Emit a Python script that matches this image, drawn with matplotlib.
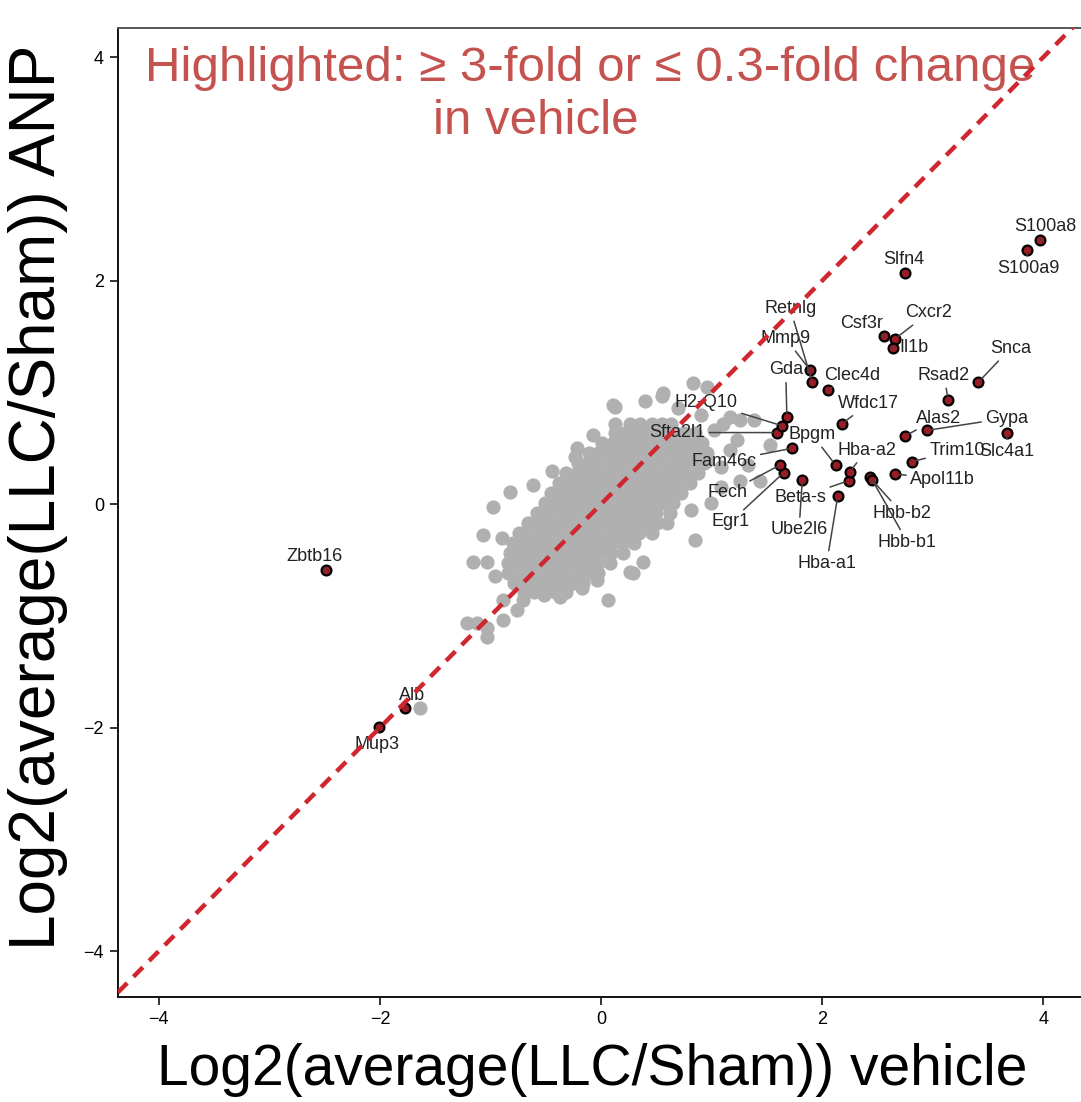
import matplotlib
matplotlib.use("Agg")
import matplotlib.pyplot as plt

# ---- highlighted genes (vehicle log2, ANP log2) ----
genes = ["S100a8", "S100a9", "Slfn4", "Cxcr2", "Csf3r", "Il1b", "Snca", "Rsad2",
         "Alas2", "Gypa", "Slc4a1", "Trim10", "Apol11b", "Hbb-b2", "Hbb-b1",
         "Hba-a1", "Ube2l6", "Beta-s", "Hba-a2", "Egr1", "Fech", "Fam46c", "Bpgm",
         "Sfta2l1", "H2-Q10", "Gda", "Mmp9", "Retnlg", "Clec4d", "Wfdc17",
         "Zbtb16", "Alb", "Mup3"]
gene_x = [3.97, 3.85, 2.75, 2.66, 2.56, 2.64, 3.41, 3.14,
          2.75, 2.95, 3.67, 2.81, 2.66, 2.43, 2.45,
          2.14, 1.82, 2.24, 2.25, 1.65, 1.62, 1.73, 2.12,
          1.59, 1.64, 1.68, 1.89, 1.91, 2.05, 2.18,
          -2.49, -1.77, -2.01]
gene_y = [2.36, 2.27, 2.07, 1.48, 1.50, 1.40, 1.09, 0.93,
          0.61, 0.66, 0.64, 0.38, 0.27, 0.24, 0.22,
          0.07, 0.22, 0.21, 0.29, 0.28, 0.35, 0.50, 0.35,
          0.64, 0.70, 0.78, 1.20, 1.09, 1.02, 0.72,
          -0.59, -1.82, -1.99]
# where the labels sit (repelled positions)
label_x = [4.02, 3.86, 2.74, 2.96, 2.36, 2.83, 3.70, 3.10,
           3.05, 3.67, 3.67, 3.22, 3.09, 2.72, 2.77,
           2.04, 1.79, 1.80, 2.40, 1.17, 1.14, 1.11, 1.91,
           0.69, 0.95, 1.67, 1.67, 1.71, 2.27, 2.42,
           -2.59, -1.71, -2.03]
label_y = [2.48, 2.11, 2.19, 1.71, 1.62, 1.40, 1.39, 1.15,
           0.77, 0.77, 0.47, 0.48, 0.22, -0.08, -0.34,
           -0.53, -0.23, 0.06, 0.48, -0.16, 0.10, 0.38, 0.62,
           0.64, 0.91, 1.20, 1.48, 1.75, 1.15, 0.90,
           -0.47, -1.71, -2.15]

# ---- non-highlighted genes: dense core, digitised row by row ----
core_y = [0.72, 0.64, 0.55, 0.46, 0.37, 0.28, 0.19, 0.10, 0.01,
          -0.08, -0.17, -0.26, -0.35, -0.44, -0.53, -0.62, -0.71, -0.79]
core_x = [
    [0.26, 0.35, 0.46, 0.55, 0.63],
    [0.13, 0.22, 0.30, 0.40, 0.49, 0.57, 0.67, 0.75, 0.85],
    [0.01, 0.11, 0.18, 0.28, 0.36, 0.46, 0.54, 0.64, 0.73, 0.81, 0.91],
    [-0.11, -0.03, 0.07, 0.16, 0.24, 0.32, 0.42, 0.51, 0.59, 0.69, 0.78, 0.87, 0.96],
    [-0.21, -0.12, -0.04, 0.06, 0.14, 0.22, 0.32, 0.41, 0.49, 0.59, 0.68, 0.76, 0.86, 0.93],
    [-0.32, -0.22, -0.14, -0.05, 0.05, 0.13, 0.21, 0.31, 0.40, 0.48, 0.58, 0.67, 0.77, 0.88],
    [-0.38, -0.30, -0.20, -0.11, -0.03, 0.07, 0.16, 0.24, 0.34, 0.43, 0.51, 0.61, 0.70, 0.80],
    [-0.45, -0.35, -0.27, -0.18, -0.08, 0.00, 0.09, 0.19, 0.27, 0.35, 0.45, 0.54, 0.63, 0.72],
    [-0.51, -0.42, -0.34, -0.24, -0.15, -0.06, 0.03, 0.12, 0.22, 0.30, 0.38, 0.48, 0.57, 0.65],
    [-0.58, -0.49, -0.39, -0.31, -0.22, -0.12, -0.04, 0.05, 0.14, 0.24, 0.32, 0.41, 0.50, 0.62],
    [-0.66, -0.56, -0.48, -0.39, -0.29, -0.21, -0.12, -0.03, 0.07, 0.15, 0.23, 0.33, 0.42, 0.51, 0.60],
    [-0.74, -0.65, -0.56, -0.46, -0.38, -0.29, -0.19, -0.11, -0.02, 0.07, 0.16, 0.26, 0.34, 0.46],
    [-0.80, -0.71, -0.61, -0.53, -0.44, -0.34, -0.26, -0.17, -0.07, 0.01, 0.10, 0.19, 0.30],
    [-0.82, -0.73, -0.64, -0.54, -0.46, -0.37, -0.27, -0.19, -0.10, -0.01, 0.09, 0.20],
    [-0.84, -0.75, -0.65, -0.57, -0.48, -0.38, -0.30, -0.21, -0.11, -0.03, 0.08],
    [-0.84, -0.74, -0.66, -0.57, -0.47, -0.39, -0.30, -0.20, -0.12, -0.03],
    [-0.79, -0.70, -0.61, -0.51, -0.43, -0.34, -0.25, -0.16],
    [-0.70, -0.61, -0.52, -0.42, -0.32],
]
# scattered grey genes around the core
spread_x = [0.13, 0.13, -0.07, -0.22, -0.24, -0.44, -0.62, -0.82, -0.98, -1.07,
            -0.90, -1.16, -1.03, -0.96, -0.71, -0.89, -0.76, -0.89, -1.12, -1.21,
            -1.03, -1.03, 0.06, 0.26, -0.04, -0.17, -0.37, -0.52, 0.55, 0.83,
            0.96, 1.17, 1.26, 1.10, 1.23, 1.38, 1.17, 1.08, 1.26, 1.44,
            0.96, 1.08, 0.85, 0.38, 0.29, 0.99, 0.81, 0.56, 0.11, -1.64,
            1.53, 1.33, 0.70, 0.40, 1.02, 0.90]
spread_y = [0.87, 0.72, 0.62, 0.50, 0.42, 0.30, 0.17, 0.11, -0.03, -0.28,
            -0.30, -0.52, -0.52, -0.64, -0.86, -0.86, -0.95, -1.04, -1.06, -1.06,
            -1.11, -1.19, -0.86, -0.61, -0.68, -0.75, -0.83, -0.81, 0.97, 1.08,
            1.05, 0.78, 0.75, 0.72, 0.57, 0.75, 0.48, 0.33, 0.21, 0.21,
            0.39, 0.15, -0.32, -0.52, -0.62, 0.01, -0.05, 0.99, 0.89, -1.82,
            0.53, 0.35, 0.86, 0.92, 0.66, 0.80]

grey_x = [x for row in core_x for x in row] + spread_x
grey_y = [y for y, row in zip(core_y, core_x) for _ in row] + spread_y

xlim = (-4.37, 4.34)
ylim = (-4.41, 4.26)

plt.rcParams['font.family'] = ['Liberation Sans', 'DejaVu Sans']

fig = plt.figure(figsize=(10.81, 11.02), dpi=100)
ax = fig.add_axes([0.109, 0.0953, 0.891, 0.8793])

ax.scatter(grey_x, grey_y, s=105, color='#b0b0b0', linewidths=0, zorder=1)
ax.plot(xlim, xlim, ls=(0, (3, 2)), color='#d0262f', lw=3.2, zorder=7)
ax.scatter(gene_x, gene_y, s=50, facecolor='#9a1c25', edgecolor='black',
           linewidths=1.6, zorder=4)

for g, x, y, lx, ly in zip(genes, gene_x, gene_y, label_x, label_y):
    ax.annotate(g, xy=(x, y), xytext=(lx, ly), ha='center', va='center',
                fontsize=13, color='#222222', zorder=5,
                arrowprops=dict(arrowstyle='-', color='#444444', lw=1.1,
                                shrinkA=1, shrinkB=3))

# annotation in the top of the panel
ax.text(-0.1, 3.90, u"Highlighted: \u2265 3-fold or \u2264 0.3-fold change",
        ha='center', va='center', fontsize=35.5, color='#c4524f', zorder=6)
ax.text(-0.59, 3.42, "in vehicle", ha='center', va='center', fontsize=35.5,
        color='#c4524f', zorder=6)

ax.set_xlim(*xlim)
ax.set_ylim(*ylim)
ax.set_xticks([-4, -2, 0, 2, 4])
ax.set_yticks([-4, -2, 0, 2, 4])
ax.set_xticklabels(["\u22124", "\u22122", "0", "2", "4"])
ax.set_yticklabels(["\u22124", "\u22122", "0", "2", "4"])
ax.tick_params(labelsize=13, length=6, width=1.3, color='#222222', pad=4)

ax.spines['right'].set_visible(False)
ax.spines['top'].set_color('#555555')
ax.spines['left'].set_color('#111111')
ax.spines['bottom'].set_color('#111111')
for s in ['top', 'left', 'bottom']:
    ax.spines[s].set_linewidth(1.4)

ax.set_xlabel("Log2(average(LLC/Sham)) vehicle", fontsize=41)
ax.set_ylabel("Log2(average(LLC/Sham)) ANP", fontsize=46)
ax.xaxis.set_label_coords(0.492, -0.047)
ax.yaxis.set_label_coords(-0.052, 0.516)

fig.savefig("out.png", dpi=100)
